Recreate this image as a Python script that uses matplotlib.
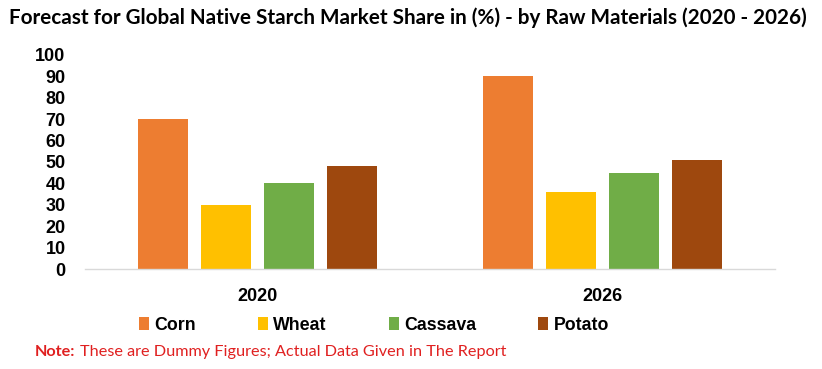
import matplotlib
matplotlib.use("Agg")
import matplotlib.pyplot as plt
import numpy as np

years = ["2020", "2026"]
series = ["Corn", "Wheat", "Cassava", "Potato"]
corn = [70, 90]
wheat = [30, 36]
cassava = [40, 45]
potato = [48, 51]
colors = ["#ED7D31", "#FFC000", "#70AD47", "#9E480E"]
yticks = [0, 10, 20, 30, 40, 50, 60, 70, 80, 90, 100]

fig = plt.figure(figsize=(8.22, 3.69), dpi=100)
ax = fig.add_axes([85/822, 1-269/369, 690/822, 214/369])

x = np.arange(len(years))
step = 0.1826
width = 0.145
values = [corn, wheat, cassava, potato]
handles = []
for i, (name, vals, c) in enumerate(zip(series, values, colors)):
    b = ax.bar(x + (i - 1.5) * step, vals, width=width, color=c, label=name)
    handles.append(b)

ax.set_xlim(-0.5, 1.5)
ax.set_ylim(0, 100)
ax.set_yticks(yticks)
ax.set_yticklabels([str(t) for t in yticks], fontsize=13, fontweight="bold", family="Liberation Sans")
ax.set_xticks(x)
ax.set_xticklabels(years, fontsize=13, fontweight="bold", family="Liberation Sans")
ax.tick_params(axis="both", length=0)
ax.tick_params(axis="x", pad=14)
ax.tick_params(axis="y", pad=14)
for s in ["top", "right", "left"]:
    ax.spines[s].set_visible(False)
ax.spines["bottom"].set_color("#D9D9D9")
ax.spines["bottom"].set_linewidth(1)

fig.text(408/822, 1-18/369, "Forecast for Global Native Starch Market Share in (%) - by Raw Materials (2020 - 2026)",
         ha="center", va="center", fontsize=14.9, fontweight="bold", family="Lato", color="#000000")

leg = fig.legend(handles=handles, labels=series, loc="center", bbox_to_anchor=(374/822, 1-325/369),
                 ncol=4, frameon=False, prop={"family": "Liberation Sans", "weight": "bold", "size": 12.8},
                 handlelength=0.55, handleheight=0.7, handletextpad=0.3, columnspacing=3.5)

fig.text(35/822, 1-352/369, "Note:", ha="left", va="center", fontsize=11.7, fontweight="bold",
         family="Lato", color="#E02020")
fig.text(80/822, 1-352/369, "These are Dummy Figures; Actual Data Given in The Report", ha="left", va="center",
         fontsize=11.7, family="Lato", color="#E02020")

fig.savefig("out.png", dpi=100)
